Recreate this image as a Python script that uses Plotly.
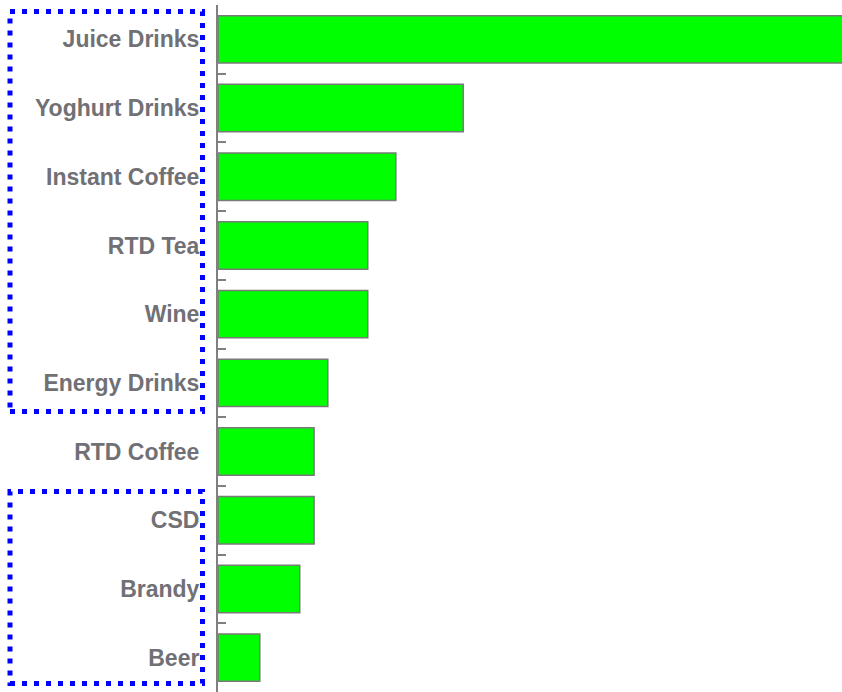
import plotly.graph_objects as go

# Beverage categories, top to bottom, with their relative growth index
categories = ["Juice Drinks", "Yoghurt Drinks", "Instant Coffee", "RTD Tea", "Wine",
              "Energy Drinks", "RTD Coffee", "CSD", "Brandy", "Beer"]
values = [104.0, 39.3, 28.5, 24.0, 24.0, 17.6, 15.4, 15.4, 13.1, 6.7]
x_max = 100

W, H = 842, 692
L, R, T, B = 218, 0, 5, 0
plot_w, plot_h = W - L - R, H - T - B


def px_x(p):
    return (p - L) / plot_w


def px_y(p):
    return (H - B - p) / plot_h


fig = go.Figure(go.Bar(
    x=values,
    y=categories,
    orientation="h",
    marker=dict(color="#00FF00", line=dict(color="#7a7a7a", width=1.5)),
    hoverinfo="skip",
))

label_font = dict(family="Liberation Sans, Arial, sans-serif", size=23, color="#707075")

fig.update_layout(
    width=W, height=H,
    margin=dict(l=L, r=R, t=T, b=B, pad=0),
    paper_bgcolor="white", plot_bgcolor="white",
    bargap=0.31,
    showlegend=False,
    xaxis=dict(range=[0, x_max], visible=False),
    yaxis=dict(
        autorange="reversed",
        showline=True, linecolor="#808080", linewidth=2,
        ticks="inside", tickson="boundaries", ticklen=8, tickcolor="#808080", tickwidth=1.5,
        showgrid=False, zeroline=False,
        tickfont=dict(**label_font, weight="bold"),
        ticklabelstandoff=12,
    ),
)

# Dotted highlight boxes around two groups of labels
dot = dict(color="#0000FF", width=5, dash="5px,7px")
for top, bottom in [(11.5, 411.5), (491.5, 683.5)]:
    fig.add_shape(type="rect", xref="paper", yref="paper",
                  x0=px_x(10), x1=px_x(202.5), y0=px_y(bottom), y1=px_y(top),
                  line=dot, fillcolor="rgba(0,0,0,0)", layer="above")

fig.write_html("out.html")
